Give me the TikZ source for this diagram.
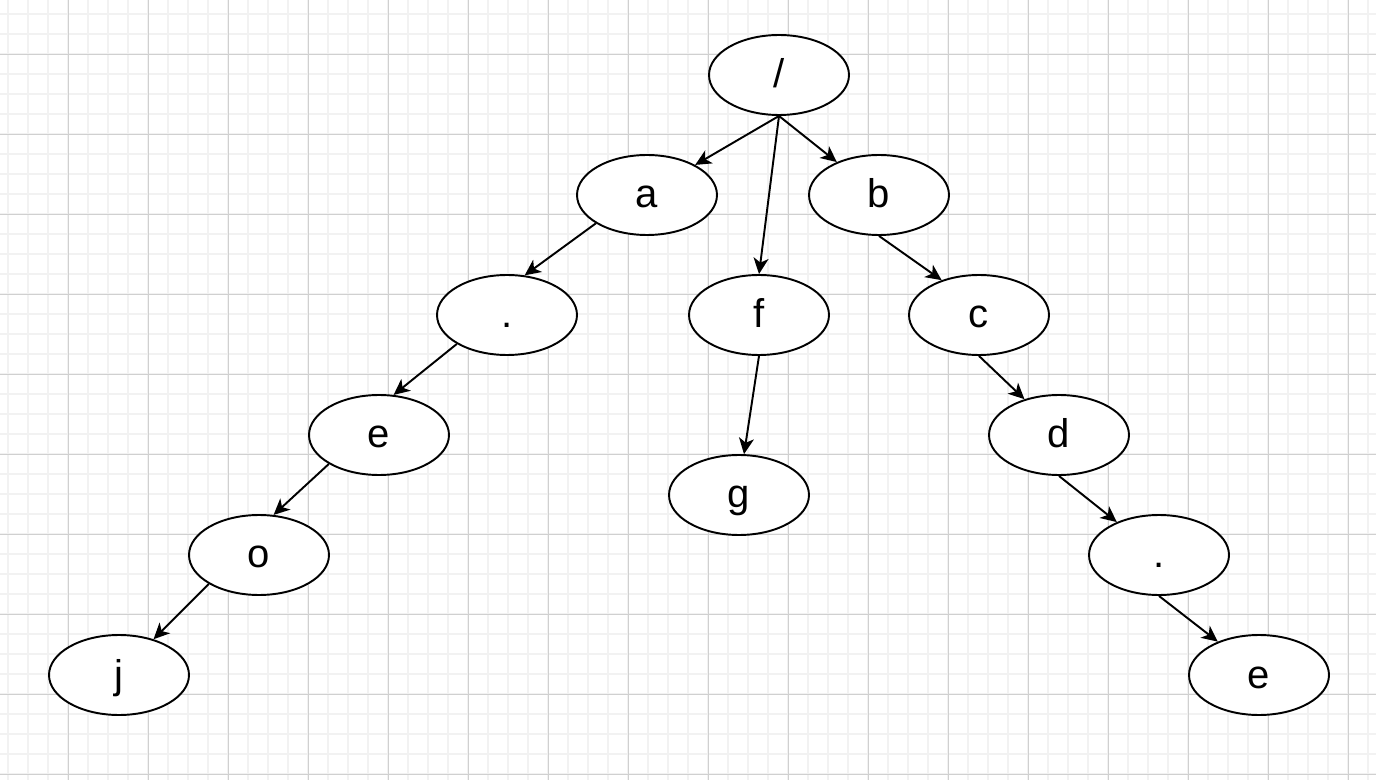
\documentclass[tikz,border=0pt]{standalone}
\usepackage{fontspec}
\setmainfont{Liberation Sans}
\usetikzlibrary{arrows.meta, shapes.geometric}
\definecolor{gridMinor}{HTML}{F2F2F2}
\definecolor{gridMajor}{HTML}{D0D0D0}

\begin{document}
\begin{tikzpicture}[
  x=0.02cm, y=-0.02cm,
  every node/.style={font=\fontsize{22.8}{27}\selectfont, inner sep=0pt},
  leaf/.style={
    ellipse, draw=black, fill=white, line width=1.1pt,
    minimum width=2.8cm, minimum height=1.6cm,
    text height=0.52cm, text depth=0pt
  },
  arrow/.style={-{Stealth[length=0.32cm, width=0.3cm, inset=0.09cm]}, line width=1.1pt}
]
 % Canvas and grid
 \useasboundingbox (0,0) rectangle (1376,780);
 \fill[white] (0,0) rectangle (1376,780);
 \foreach \gx in {8,28,...,1376}
  \draw[gridMinor, line width=1.1pt] (\gx,0) -- (\gx,780);
 \foreach \gy in {14,34,...,780}
  \draw[gridMinor, line width=1.1pt] (0,\gy) -- (1376,\gy);
 \foreach \gx in {68,148,...,1376}
  \draw[gridMajor, line width=0.5pt] (\gx,0) -- (\gx,780);
 \foreach \gy in {54,134,...,780}
  \draw[gridMajor, line width=0.5pt] (0,\gy) -- (1376,\gy);

 % Root
 \node[leaf] (root) at (779,75) {/};

 % Left branch
 \node[leaf] (na) at (647,195) {a};
 \node[leaf] (ndot) at (507,315) {.};
 \node[leaf] (ne) at (379,435) {e};
 \node[leaf] (no) at (259,555) {o};
 \node[leaf] (nj) at (119,675) {j};

 % Middle branch
 \node[leaf] (nf) at (759,315) {f};
 \node[leaf] (ng) at (739,495) {g};

 % Right branch
 \node[leaf] (nb) at (879,195) {b};
 \node[leaf] (nc) at (979,315) {c};
 \node[leaf] (nd) at (1059,435) {d};
 \node[leaf] (ndotb) at (1159,555) {.};
 \node[leaf] (neb) at (1259,675) {e};

 \draw[arrow] (root.south) -- (na.32);
 \draw[arrow] (root.south) -- (nf.north);
 \draw[arrow] (root.south) -- (nb.142);

 \draw[arrow] (na.209) -- (ndot.66);
 \draw[arrow] (ndot.210) -- (ne.70);
 \draw[arrow] (ne.210) -- (no.70);
 \draw[arrow] (no.210) -- (nj.46);

 \draw[arrow] (nf.south) -- (ng.83);

 \draw[arrow] (nb.south) -- (nc.137);
 \draw[arrow] (nc.south) -- (nd.134);
 \draw[arrow] (nd.south) -- (ndotb.142);
 \draw[arrow] (ndotb.south) -- (neb.141);
\end{tikzpicture}
\end{document}
